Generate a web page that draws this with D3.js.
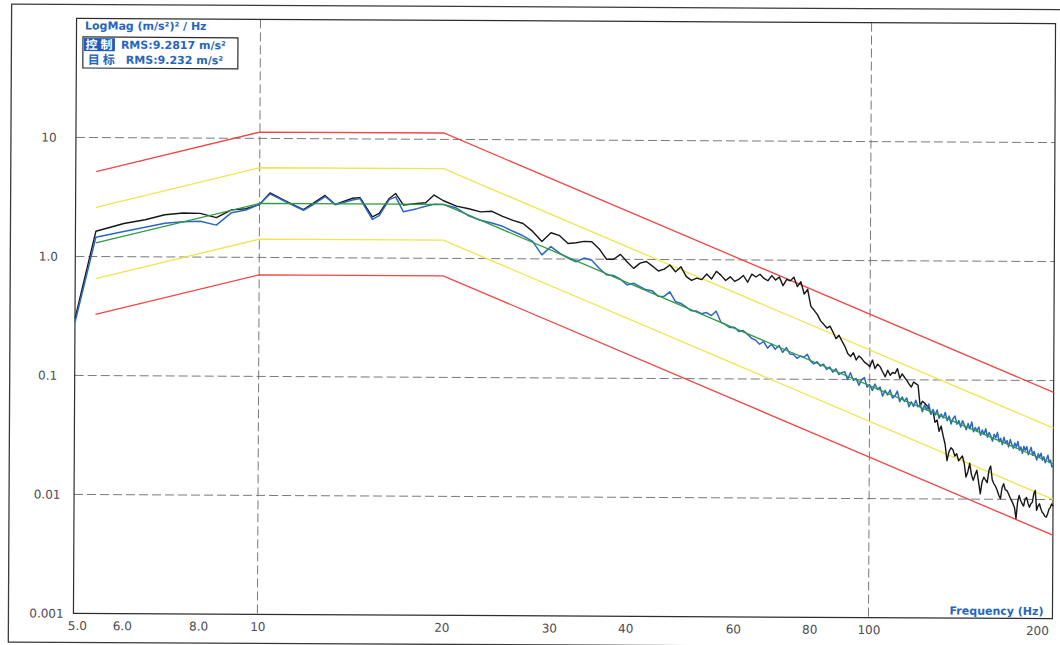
<!DOCTYPE html>
<html>
<head>
<meta charset="utf-8">
<script src="https://cdn.jsdelivr.net/npm/d3@7"></script>
<style>
  html, body { margin: 0; padding: 0; background: #fff; }
  svg { display: block; }
</style>
</head>
<body>
<svg id="chart" width="1060" height="645"></svg>
<script>
// Spectral lines (Hz)
const freqs = [
  5, 5.4, 6, 6.5, 7, 7.5, 8, 8.5, 9, 9.5, 10, 10.4, 11, 11.8, 12.3, 12.8, 13.3,
  14.2, 14.6, 15.3, 15.7, 16.3, 16.7, 17.2, 18.1, 18.7, 19.3,
  20, 21, 22, 23, 24, 25, 26, 27, 28, 29,
  30, 31, 32, 33, 34, 35, 36, 37, 38, 39,
  40, 41, 42, 43, 44, 45, 46, 47, 48, 49,
  50, 51, 52, 53, 54, 55, 56, 57, 58, 59,
  60, 61, 62, 63, 64, 65, 66, 67, 68, 69,
  70, 71, 72, 73, 74, 75, 76, 77, 78, 79,
  80, 81, 82, 83, 84, 85, 86, 87, 88, 89,
  90, 91, 92, 93, 94, 95, 96, 97, 98, 99,
  100, 101, 102, 103, 104, 105, 106, 107, 108, 109,
  110, 111, 112, 113, 114, 115, 116, 117, 118, 119,
  120, 121, 122, 123, 124, 125, 126, 127, 128, 129,
  130, 131, 132, 133, 134, 135, 136, 137, 138, 139,
  140, 141, 142, 143, 144, 145, 146, 147, 148, 149,
  150, 151, 152, 153, 154, 155, 156, 157, 158, 159,
  160, 161, 162, 163, 164, 165, 166, 167, 168, 169,
  170, 171, 172, 173, 174, 175, 176, 177, 178, 179,
  180, 181, 182, 183, 184, 185, 186, 187, 188, 189,
  190, 191, 192, 193, 194, 195, 196, 197, 198, 199, 200
];

// Control channel PSD, (m/s²)²/Hz  (blue)
const controlPsd = [
  0.28, 1.45, 1.63, 1.77, 1.92, 1.98, 2.00, 1.86, 2.37, 2.50, 2.80, 3.42, 2.97, 2.50, 2.84, 3.27, 2.79,
  3.07, 3.15, 2.11, 2.27, 3.10, 3.27, 2.45, 2.61, 2.74, 2.84,
  2.84, 2.65, 2.28, 2.10, 1.99, 1.87, 1.70, 1.56, 1.40, 1.08,
  1.27, 1.12, 1.02, 0.95, 1.02, 0.98, 0.84, 0.74, 0.73, 0.68,
  0.61, 0.63, 0.59, 0.555, 0.545, 0.49, 0.49, 0.535, 0.445, 0.428,
  0.40, 0.372, 0.37, 0.352, 0.36, 0.34, 0.37, 0.30, 0.286, 0.27,
  0.272, 0.25, 0.255, 0.238, 0.22, 0.212, 0.196, 0.207, 0.182, 0.196,
  0.178, 0.192, 0.168, 0.184, 0.163, 0.161, 0.150, 0.157, 0.153, 0.162,
  0.142, 0.135, 0.141, 0.129, 0.134, 0.121, 0.127, 0.115, 0.123, 0.110,
  0.114, 0.116, 0.100, 0.114, 0.0986, 0.102, 0.0894, 0.0998, 0.104, 0.0865,
  0.0907, 0.0809, 0.092, 0.0826, 0.0866, 0.0728, 0.0814, 0.0744, 0.082, 0.0701,
  0.0731, 0.0802, 0.0654, 0.0717, 0.0657, 0.0704, 0.0594, 0.0653, 0.0598, 0.0673,
  0.0595, 0.0621, 0.0539, 0.0616, 0.056, 0.0627, 0.0514, 0.0564, 0.0507, 0.056,
  0.0476, 0.0518, 0.048, 0.0534, 0.0455, 0.0499, 0.0427, 0.0475, 0.0498, 0.0425,
  0.0457, 0.0404, 0.0456, 0.042, 0.0382, 0.0432, 0.039, 0.0446, 0.0368, 0.04,
  0.0376, 0.0404, 0.0344, 0.0381, 0.0351, 0.0391, 0.0331, 0.0364, 0.0339, 0.0308,
  0.0352, 0.0329, 0.0365, 0.0305, 0.0325, 0.0288, 0.0332, 0.0298, 0.0311, 0.0276,
  0.0318, 0.0291, 0.0269, 0.0298, 0.0275, 0.0307, 0.0259, 0.0276, 0.0244, 0.0279,
  0.0259, 0.0278, 0.0238, 0.0255, 0.0274, 0.0235, 0.0253, 0.0233, 0.0215, 0.0242,
  0.0227, 0.0245, 0.0214, 0.0229, 0.0204, 0.0219, 0.0236, 0.0204, 0.0214, 0.0188, 0.0194
];

// Monitoring channel PSD, (m/s²)²/Hz  (black)
const monitorPsd = [
  0.30, 1.63, 1.90, 2.05, 2.26, 2.34, 2.33, 2.15, 2.50, 2.56, 2.78, 3.49, 3.01, 2.53, 2.92, 3.34, 2.81,
  3.17, 3.21, 2.22, 2.37, 3.17, 3.49, 2.79, 2.88, 2.93, 3.40,
  3.05, 2.75, 2.62, 2.47, 2.50, 2.27, 2.10, 1.98, 1.70, 1.40,
  1.66, 1.57, 1.35, 1.37, 1.41, 1.40, 1.22, 1.00, 1.00, 1.10,
  0.95, 0.84, 0.93, 0.96, 0.88, 0.80, 0.83, 0.90, 0.79, 0.87,
  0.72, 0.67, 0.70, 0.68, 0.76, 0.69, 0.80, 0.74, 0.67, 0.72,
  0.66, 0.69, 0.74, 0.65, 0.76, 0.72, 0.76, 0.70, 0.67, 0.74,
  0.68, 0.72, 0.61, 0.69, 0.67, 0.72, 0.60, 0.66, 0.52, 0.57,
  0.41, 0.38, 0.35, 0.31, 0.29, 0.27, 0.28, 0.25, 0.22, 0.235,
  0.21, 0.19, 0.165, 0.156, 0.168, 0.146, 0.158, 0.150, 0.14, 0.135,
  0.128, 0.146, 0.124, 0.135, 0.128, 0.116, 0.106, 0.120, 0.109, 0.115,
  0.113, 0.124, 0.103, 0.112, 0.105, 0.099, 0.092, 0.087, 0.096, 0.093,
  0.090, 0.060, 0.066, 0.064, 0.061, 0.058, 0.052, 0.055, 0.044, 0.046,
  0.037, 0.041, 0.034, 0.029, 0.021, 0.025, 0.027, 0.026, 0.023, 0.024,
  0.021, 0.022, 0.023, 0.020, 0.0153, 0.017, 0.020, 0.016, 0.0144, 0.016,
  0.0175, 0.014, 0.0111, 0.014, 0.0153, 0.0145, 0.0138, 0.0175, 0.019, 0.0145,
  0.0135, 0.0128, 0.0119, 0.0108, 0.0101, 0.0125, 0.0135, 0.012, 0.0119, 0.0112,
  0.0104, 0.0098, 0.0092, 0.0085, 0.0069, 0.0095, 0.0108, 0.0098, 0.0092, 0.0088,
  0.0101, 0.0104, 0.0093, 0.0086, 0.0092, 0.0095, 0.0112, 0.0119, 0.0081, 0.0088,
  0.0092, 0.0084, 0.0078, 0.0076, 0.0072, 0.0071, 0.0076, 0.0083, 0.0086, 0.0092, 0.0088
];

// Reference profile breakpoints
const profileFreq = [5.4, 10, 20, 200];
const profileLevel = [1.3, 2.84, 2.84, 0.020];

// Abort / alarm limits relative to the profile, in dB
const toleranceDb = [6, 3, -3, -6];
const toleranceColor = ["#ef4646", "#f1e44c", "#f1e44c", "#ef4646"];

const xTicks = [5, 6, 8, 10, 20, 30, 40, 60, 80, 100, 200];
const xTickLabels = ["5.0", "6.0", "8.0", "10", "20", "30", "40", "60", "80", "100", "200"];
const yTicks = [10, 1, 0.1, 0.01, 0.001];
const yTickLabels = ["10", "1.0", "0.1", "0.01", "0.001"];
const xGrid = [10, 100];
const yGrid = [10, 1, 0.1, 0.01];

const yTitle = "LogMag (m/s²)² / Hz";
const xTitle = "Frequency (Hz)";
const legendNames = ["控制", "目标"];
const legendRms = ["RMS:9.2817 m/s²", "RMS:9.232 m/s²"];

// ---- layout ----
const plot = { left: 75, right: 1054, top: 21, bottom: 616 };
const BLUE_TEXT = "#2566bd";

const svg = d3.select("#chart");
// the printed sheet sits very slightly rotated
const root = svg.append("g").attr("transform", "rotate(0.3 564 318)");

root.append("rect")
  .attr("x", 10).attr("y", 7).attr("width", 1060).attr("height", 638)
  .attr("fill", "none").attr("stroke", "#3a3a3a").attr("stroke-width", 1.3);

const x = d3.scaleLog().domain([5, 200]).range([plot.left, plot.right]);
const y = d3.scaleLog().domain([0.001, 100]).range([plot.bottom, plot.top]);

// grid
const grid = root.append("g")
  .attr("stroke", "#6a6a6a").attr("stroke-width", 0.9).attr("stroke-dasharray", "9,4");
grid.selectAll("line.h").data(yGrid).join("line").attr("class", "h")
  .attr("x1", plot.left).attr("x2", plot.right)
  .attr("y1", d => y(d)).attr("y2", d => y(d));
grid.selectAll("line.v").data(xGrid).join("line").attr("class", "v")
  .attr("x1", d => x(d)).attr("x2", d => x(d))
  .attr("y1", plot.top).attr("y2", plot.bottom);

// plot frame
root.append("rect")
  .attr("x", plot.left).attr("y", plot.top)
  .attr("width", plot.right - plot.left).attr("height", plot.bottom - plot.top)
  .attr("fill", "none").attr("stroke", "#2e2e2e").attr("stroke-width", 1.2);

const line = d3.line().x(d => x(d[0])).y(d => y(d[1]));

// tolerance bands
toleranceDb.forEach((db, k) => {
  const pts = profileFreq.map((f, i) => [f, profileLevel[i] * Math.pow(10, db / 10)]);
  root.append("path").datum(pts)
    .attr("d", line).attr("fill", "none")
    .attr("stroke", toleranceColor[k]).attr("stroke-width", 1.3);
});

// measured spectra
const n = Math.min(freqs.length, monitorPsd.length, controlPsd.length);
const monitorPts = d3.range(n).map(i => [freqs[i], monitorPsd[i]]);
const controlPts = d3.range(n).map(i => [freqs[i], controlPsd[i]]);

root.append("path").datum(monitorPts)
  .attr("d", line).attr("fill", "none")
  .attr("stroke", "#161616").attr("stroke-width", 1.4).attr("stroke-linejoin", "round");
root.append("path").datum(controlPts)
  .attr("d", line).attr("fill", "none")
  .attr("stroke", "#2a68c6").attr("stroke-width", 1.5).attr("stroke-linejoin", "round");

// reference profile
root.append("path").datum(profileFreq.map((f, i) => [f, profileLevel[i]]))
  .attr("d", line).attr("fill", "none")
  .attr("stroke", "#2f9a3e").attr("stroke-width", 1.3);

// axes
const axisFont = "DejaVu Sans, Verdana, sans-serif";
const xAxis = root.append("g")
  .attr("transform", `translate(0,${plot.bottom})`)
  .call(d3.axisBottom(x).tickValues(xTicks).tickFormat((d, i) => xTickLabels[i]).tickSize(0).tickPadding(8));
xAxis.select(".domain").remove();
xAxis.selectAll("text")
  .attr("font-family", axisFont).attr("font-size", 12).attr("fill", "#4b4b52");
xAxis.selectAll("text").filter(d => d === 5).attr("text-anchor", "start").attr("x", -6);
xAxis.selectAll("text").filter(d => d === 200).attr("text-anchor", "end").attr("x", -4);

const yAxis = root.append("g")
  .attr("transform", `translate(${plot.left},0)`)
  .call(d3.axisLeft(y).tickValues(yTicks).tickFormat((d, i) => yTickLabels[i]).tickSize(0));
yAxis.select(".domain").remove();
yAxis.selectAll("text")
  .attr("font-family", axisFont).attr("font-size", 12).attr("fill", "#4b4b52")
  .attr("text-anchor", "middle").attr("x", -27);

// axis titles
root.append("text")
  .attr("x", 1045).attr("y", 612.5).attr("text-anchor", "end")
  .attr("font-family", axisFont).attr("font-size", 11).attr("font-weight", "bold")
  .attr("fill", BLUE_TEXT).text(xTitle);

root.append("text")
  .attr("x", 83.5).attr("y", 32)
  .attr("font-family", axisFont).attr("font-size", 11).attr("font-weight", "bold")
  .attr("fill", BLUE_TEXT).text(yTitle);

// legend
const lg = root.append("g");
lg.append("rect")
  .attr("x", 81.5).attr("y", 39.5).attr("width", 155).attr("height", 31)
  .attr("fill", "#fff").attr("stroke", "#2b2b2b").attr("stroke-width", 1.2);
lg.append("rect")
  .attr("x", 82.5).attr("y", 40.5).attr("width", 31).attr("height", 13)
  .attr("fill", "#1f5cb8");
const cjkFont = "Noto Sans CJK SC, sans-serif";
lg.append("text")
  .attr("x", 84).attr("y", 51.5).attr("font-family", cjkFont)
  .attr("font-size", 12).attr("font-weight", "bold").attr("letter-spacing", 3)
  .attr("fill", "#fff").text(legendNames[0]);
lg.append("text")
  .attr("x", 119.5).attr("y", 51).attr("font-family", axisFont)
  .attr("font-size", 11).attr("font-weight", "bold").attr("fill", BLUE_TEXT)
  .text(legendRms[0]);
lg.append("text")
  .attr("x", 86.5).attr("y", 66.5).attr("font-family", cjkFont)
  .attr("font-size", 12).attr("font-weight", "bold").attr("letter-spacing", 3)
  .attr("fill", BLUE_TEXT).text(legendNames[1]);
lg.append("text")
  .attr("x", 124.5).attr("y", 66).attr("font-family", axisFont)
  .attr("font-size", 11).attr("font-weight", "bold").attr("fill", BLUE_TEXT)
  .text(legendRms[1]);
</script>
</body>
</html>
